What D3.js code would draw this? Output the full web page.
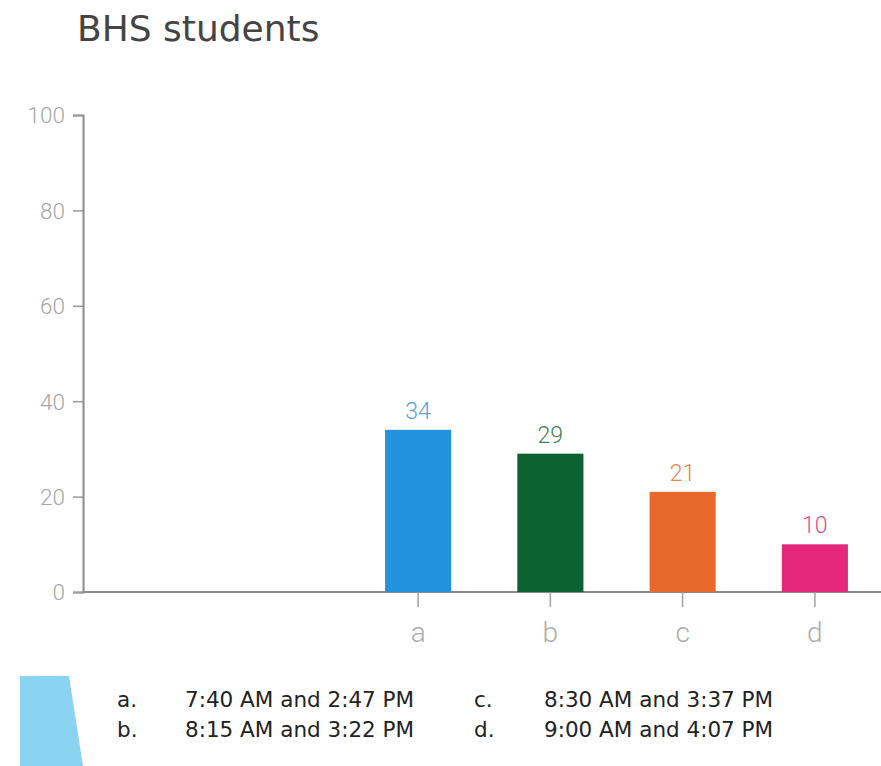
<!DOCTYPE html>
<html>
<head>
<meta charset="utf-8">
<script src="https://cdn.jsdelivr.net/npm/d3@7"></script>
<style>
  html, body { margin: 0; padding: 0; background: #fff; }
  svg { display: block; }
</style>
</head>
<body>
<svg id="chart" width="881" height="766"></svg>
<script>
// Survey answers: number of BHS students choosing each school-day schedule
const categories = ["a", "b", "c", "d"];
const values = [34, 29, 21, 10];
const barColors = ["#2291de", "#0c6231", "#e8692b", "#e6287a"];
const labelColors = ["#5a9fd6", "#3f7f57", "#e5844f", "#d9508a"];
const yTicks = [0, 20, 40, 60, 80, 100];
const optionLetters = ["a.", "b.", "c.", "d."];
const optionTimes = ["7:40 AM and 2:47 PM", "8:15 AM and 3:22 PM", "8:30 AM and 3:37 PM", "9:00 AM and 4:07 PM"];

const svg = d3.select("#chart");
const thin = "Roboto, 'Liberation Sans', sans-serif";
const body = "'DejaVu Sans', sans-serif";

// Title
svg.append("text")
  .attr("x", 77).attr("y", 41)
  .attr("font-family", body)
  .attr("font-size", 36)
  .attr("fill", "#444")
  .text("BHS students");

// Scales
const y = d3.scaleLinear().domain([0, 100]).range([592, 115]);
const x = d3.scaleBand().domain(categories).range([352, 881])
  .paddingInner(0.5).paddingOuter(0.25);

// Y axis
const yAxis = svg.append("g")
  .attr("transform", "translate(83,0)")
  .call(d3.axisLeft(y).tickValues(yTicks).tickSize(10).tickPadding(8));
yAxis.select(".domain").attr("stroke", "#8a8a8a").attr("stroke-width", 2);
yAxis.selectAll(".tick line").attr("stroke", "#9a9a9a").attr("stroke-width", 1.5);
yAxis.selectAll(".tick text")
  .attr("font-family", thin).attr("font-weight", 300).attr("font-size", 22.5)
  .attr("fill", "#a6a6a6").attr("dy", "0.35em");

// X baseline across the full plot width
svg.append("line")
  .attr("x1", 83).attr("x2", 881)
  .attr("y1", y(0)).attr("y2", y(0))
  .attr("stroke", "#8a8a8a").attr("stroke-width", 2);

// Bars
svg.selectAll("rect.bar")
  .data(values)
  .join("rect")
  .attr("class", "bar")
  .attr("x", (d, i) => x(categories[i]))
  .attr("y", d => y(d))
  .attr("width", x.bandwidth())
  .attr("height", d => y(0) - y(d))
  .attr("fill", (d, i) => barColors[i]);

// Value labels
svg.selectAll("text.value")
  .data(values)
  .join("text")
  .attr("class", "value")
  .attr("x", (d, i) => x(categories[i]) + x.bandwidth() / 2)
  .attr("y", d => y(d) - 11)
  .attr("text-anchor", "middle")
  .attr("font-family", thin).attr("font-weight", 300).attr("font-size", 23)
  .attr("fill", (d, i) => labelColors[i])
  .text(d => d);

// X axis ticks and category labels
const xAxis = svg.append("g")
  .attr("transform", `translate(0,${y(0)})`)
  .call(d3.axisBottom(x).tickSize(15).tickPadding(0));
xAxis.select(".domain").remove();
xAxis.selectAll(".tick line").attr("stroke", "#a0a0a0").attr("stroke-width", 1.5);
xAxis.selectAll(".tick text")
  .attr("font-family", thin).attr("font-weight", 300).attr("font-size", 28)
  .attr("fill", "#acacac")
  .attr("dy", null)
  .attr("y", 50);

// Decorative light-blue slab beside the answer options
svg.append("polygon")
  .attr("points", [[20, 676], [69, 676], [83, 766], [20, 766]].map(p => p.join(",")).join(" "))
  .attr("fill", "#8bd4f1");

// Answer options in two columns
const optCols = [117, 474];
const timeCols = [185, 544];
const optRows = [707, 737];
optionLetters.forEach((letter, i) => {
  const col = Math.floor(i / 2), row = i % 2;
  svg.append("text")
    .attr("x", optCols[col]).attr("y", optRows[row])
    .attr("font-family", body).attr("font-size", 21.5)
    .attr("fill", "#222")
    .text(letter);
  svg.append("text")
    .attr("x", timeCols[col]).attr("y", optRows[row])
    .attr("font-family", body).attr("font-size", 21.5)
    .attr("fill", "#222")
    .text(optionTimes[i]);
});
</script>
</body>
</html>
